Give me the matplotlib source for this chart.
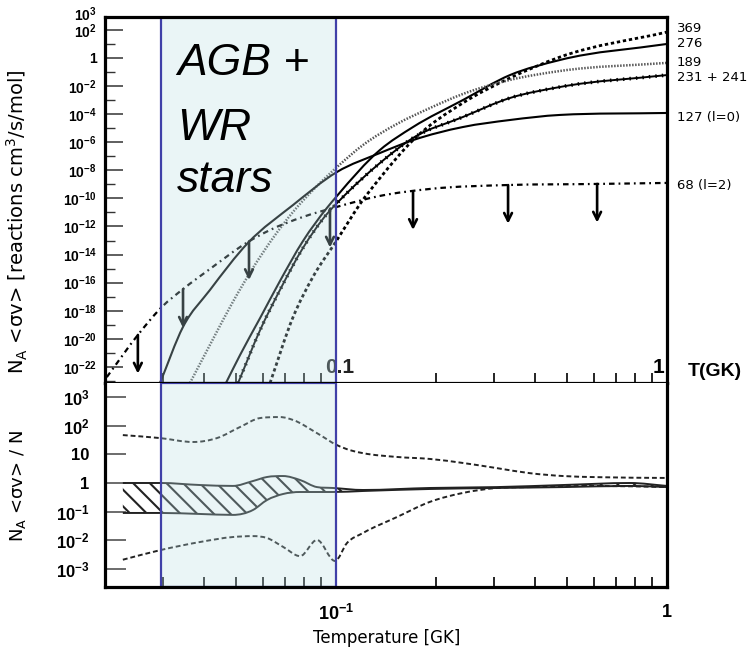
import matplotlib
matplotlib.use("Agg")
import matplotlib.pyplot as plt
import numpy as np
from matplotlib.ticker import FixedLocator, NullFormatter, NullLocator
from matplotlib.path import Path
from matplotlib.patches import PathPatch

plt.rcParams['mathtext.fontset'] = 'custom'
plt.rcParams['mathtext.rm'] = 'Liberation Sans:bold'
plt.rcParams['mathtext.it'] = 'Liberation Sans:bold'
plt.rcParams['mathtext.bf'] = 'Liberation Sans:bold'
plt.rcParams['mathtext.default'] = 'rm'
plt.rcParams['hatch.linewidth'] = 1.5

# ---------------- data (top panel): N_A<sv> vs T [GK] ----------------
T_369 = [0.0632, 0.0742, 0.0852, 0.1007, 0.1080, 0.1182, 0.1358, 0.1709, 0.2418, 0.3355, 0.4751, 1.0]
R_369 = [7.2e-24, 3.6e-19, 2.6e-16, 1.1e-13, 1.5e-12, 4.0e-11, 2.8e-09, 1.4e-06, 6.2e-04, 3.7e-02, 1.15, 69.0]

T_276 = [0.0465, 0.0513, 0.0590, 0.0677, 0.0795, 0.0939, 0.1007, 0.1358, 0.1709, 0.2418, 0.3355, 0.4751, 1.0]
R_276 = [7.2e-24, 7.1e-22, 3.1e-19, 1.3e-16, 9.3e-14, 2.1e-11, 1.5e-10, 2.8e-07, 1.2e-05, 1.0e-03, 6.0e-02, 0.71, 9.8]

T_189 = [0.0362, 0.0425, 0.0488, 0.0561, 0.0645, 0.0742, 0.0864, 0.1007, 0.1207, 0.1529, 0.1923, 0.2418, 0.3355, 0.4751, 1.0]
R_189 = [7.2e-24, 9.7e-21, 4.3e-18, 1.1e-15, 1.5e-13, 1.1e-11, 5.5e-10, 1.7e-08, 6.3e-07, 2.0e-05, 2.7e-04, 2.7e-03, 2.7e-02, 0.117, 0.44]

T_231 = [0.0506, 0.0590, 0.0677, 0.0795, 0.0939, 0.1028, 0.1358, 0.1709, 0.2418, 0.3355, 0.4751, 1.0]
R_231 = [7.2e-24, 4.3e-20, 3.0e-17, 3.0e-14, 7.8e-12, 7.6e-11, 3.3e-08, 2.0e-06, 6.2e-05, 1.4e-03, 8.5e-03, 6.0e-02]

T_127 = [0.0294, 0.0345, 0.0416, 0.0542, 0.0742, 0.1007, 0.1358, 0.1709, 0.2418, 0.3355, 0.4751, 1.0]
R_127 = [7.2e-24, 7.1e-20, 3.0e-17, 6.8e-14, 3.4e-11, 7.6e-09, 1.7e-07, 1.4e-06, 1.2e-05, 3.8e-05, 8.7e-05, 1.2e-04]

T_68 = [0.0203, 0.0252, 0.0298, 0.0345, 0.0416, 0.0542, 0.0632, 0.0795, 0.1007, 0.1358, 0.1923, 0.3355, 0.5854, 1.0]
R_68 = [1.9e-23, 1.9e-20, 1.9e-18, 3.5e-17, 9.4e-16, 7.9e-14, 5.6e-13, 4.8e-12, 2.5e-11, 1.5e-10, 4.7e-10, 9.0e-10, 1.05e-09, 1.26e-09]

# upper-limit arrows on the 68 keV (l=2) curve
T_arrows = [0.0252, 0.0345, 0.0546, 0.0959, 0.1709, 0.331, 0.615]

curve_labels = ["369", "276", "189", "231 + 241", "127 (l=0)", "68 (l=2)"]

# ---------------- data (bottom panel): N_A<sv>/N ----------------
T_hi = [0.0227, 0.0294, 0.0370, 0.0437, 0.0513, 0.0590, 0.0677, 0.0742, 0.0876, 0.1007,
        0.1102, 0.1207, 0.1529, 0.1923, 0.2418, 0.3064, 0.3855, 0.4851, 0.6144, 1.0]
N_hi = [47, 37, 27, 37, 90, 185, 200, 158, 55, 21, 14, 11, 8.1, 6.9, 5.0, 3.3, 2.2, 1.75, 1.6, 1.5]

T_lo = [0.0227, 0.0296, 0.0388, 0.0488, 0.0561, 0.0619, 0.0692, 0.0779, 0.0876, 0.0993,
        0.1080, 0.1207, 0.1529, 0.1923, 0.2418, 0.3064, 0.3855, 0.6144, 1.0]
N_lo = [2.1e-3, 4.6e-3, 8.7e-3, 1.3e-2, 1.4e-2, 1.2e-2, 5.9e-3, 2.8e-3, 1.03e-2, 1.9e-3,
        8.1e-3, 1.8e-2, 6.5e-2, 0.22, 0.45, 0.67, 0.72, 0.79, 0.72]

T_band = [0.0227, 0.0296, 0.0388, 0.0488, 0.0561, 0.0619, 0.0692, 0.0779, 0.0876, 0.0979,
          0.1207, 0.1923, 0.3064, 0.4851, 0.7737, 1.0]
N_band_up = [1.0, 1.0, 0.85, 0.79, 1.17, 1.62, 1.75, 1.27, 0.72, 0.67, 0.57, 0.67, 0.72, 0.85, 1.0, 0.79]
N_band_dn = [0.090, 0.090, 0.083, 0.077, 0.114, 0.255, 0.413, 0.485, 0.485, 0.485, 0.526, 0.618,
             0.67, 0.72, 0.79, 0.72]

T_box = [0.0296, 0.1]   # AGB + WR temperature range


def bezier_verts(xs, ys):
    """Cubic Bezier vertices through the points (shape-preserving tangents, log-log)."""
    lx, ly = np.log10(xs), np.log10(ys)
    n = len(lx)
    h = np.diff(lx)
    d = np.diff(ly) / h
    m = np.zeros(n)
    m[0], m[-1] = d[0], d[-1]
    for i in range(1, n - 1):
        if d[i - 1] * d[i] <= 0:
            m[i] = 0.0
        else:
            mi = (d[i - 1] * h[i] + d[i] * h[i - 1]) / (h[i - 1] + h[i])
            lim = 3 * min(abs(d[i - 1]), abs(d[i]))
            m[i] = np.sign(mi) * min(abs(mi), lim)
    verts = [(lx[0], ly[0])]
    for i in range(n - 1):
        verts += [(lx[i] + h[i] / 3, ly[i] + m[i] * h[i] / 3),
                  (lx[i + 1] - h[i] / 3, ly[i + 1] - m[i + 1] * h[i] / 3),
                  (lx[i + 1], ly[i + 1])]
    return 10.0 ** np.array(verts)


def smooth_path(xs, ys):
    v = bezier_verts(xs, ys)
    codes = [Path.MOVETO] + [Path.CURVE4] * (len(v) - 1)
    return Path(v, codes)


def draw(ax, xs, ys, **kw):
    ax.add_patch(PathPatch(smooth_path(xs, ys), fill=False, capstyle='butt', **kw))


# ---------------- figure ----------------
W, H = 754, 654
fig = plt.figure(figsize=(W / 100, H / 100), dpi=100)
L, R = 105, 667
ax1 = fig.add_axes([L / W, 1 - 383 / H, (R - L) / W, (383 - 17) / H])
ax2 = fig.add_axes([L / W, 1 - 587 / H, (R - L) / W, (587 - 383) / H])

xlim = (0.02005, 1.0)
for ax in (ax1, ax2):
    ax.set_xscale('log')
    ax.set_yscale('log')
    ax.set_xlim(*xlim)
    for s in ax.spines.values():
        s.set_linewidth(2.3)
ax1.set_ylim(10 ** -23.14, 10 ** 2.91)
ax2.set_ylim(10 ** -3.63, 10 ** 3.49)
ax2.spines['top'].set_visible(False)

# --- top panel curves
draw(ax1, T_369, R_369, edgecolor='k', lw=2.0, ls=(0, (1.2, 1.0)), zorder=2)
draw(ax1, T_276, R_276, edgecolor='k', lw=1.5, zorder=2)
draw(ax1, T_189, R_189, edgecolor='#555555', lw=1.8, ls=(0, (0.6, 0.6)), zorder=2)
draw(ax1, T_231, R_231, edgecolor='k', lw=1.4, zorder=2)
draw(ax1, T_231, R_231, edgecolor='k', lw=2.6, ls=(0, (0.4, 1.4)), zorder=2)
draw(ax1, T_127, R_127, edgecolor='k', lw=1.5, zorder=2)
draw(ax1, T_68, R_68, edgecolor='k', lw=1.6, ls=(0, (2.5, 1.8, 0.8, 1.8)), zorder=2)

logT68, logR68 = np.log10(T_68), np.log10(R_68)
for ta in T_arrows:
    r0 = 10 ** np.interp(np.log10(ta), logT68, logR68)
    ax1.annotate('', xy=(ta, r0 / 10 ** 2.75), xytext=(ta, r0),
                 arrowprops=dict(arrowstyle='->', lw=1.9, color='k',
                                 mutation_scale=14, shrinkA=0, shrinkB=0), zorder=2)

# right-hand labels
ends = [R_369[-1], R_276[-1], R_189[-1], R_231[-1], R_127[-1], R_68[-1]]
dys = [2.5, 0.5, 0, -1.5, -3.5, -2]
for lab, v, dy in zip(curve_labels, ends, dys):
    ax1.annotate(lab, xy=(1.0, v), xycoords=('data', 'data'), xytext=(7, dy),
                 textcoords='offset points', ha='left', va='center', fontsize=9.5,
                 family='DejaVu Sans', annotation_clip=False)

# top y ticks
yt1 = [10.0 ** k for k in range(2, -23, -2)]
yl1 = ['$10^{%d}$' % k if k != 0 else '1' for k in range(2, -23, -2)]
ax1.yaxis.set_major_locator(FixedLocator(yt1))
ax1.set_yticklabels(yl1)
ax1.yaxis.set_minor_locator(FixedLocator([10.0 ** k for k in range(1, -24, -2)]))
ax1.yaxis.set_minor_formatter(NullFormatter())
ax1.tick_params(axis='y', which='major', direction='in', length=13, width=1.1, pad=6,
                labelsize=10, color='#333333')
ax1.tick_params(axis='y', which='minor', direction='in', length=7, width=1.0, color='#333333')
for t in ax1.get_yticklabels():
    t.set_fontweight('bold')
    t.set_family('Liberation Sans')
ax1.annotate('$10^{3}$', xy=(0, 1), xycoords='axes fraction', xytext=(-6, 2),
             textcoords='offset points', ha='right', va='center', fontsize=10)

# top x ticks (inside, no labels)
ax1.xaxis.set_major_locator(FixedLocator([0.1, 1.0]))
ax1.xaxis.set_minor_locator(FixedLocator([0.03, 0.04, 0.05, 0.06, 0.07, 0.08, 0.09,
                                          0.2, 0.3, 0.4, 0.5, 0.6, 0.7, 0.8, 0.9]))
ax1.xaxis.set_major_formatter(NullFormatter())
ax1.xaxis.set_minor_formatter(NullFormatter())
ax1.tick_params(axis='x', which='both', direction='in', length=7, width=1.2)
ax1.annotate('0.1', xy=(0.1, 10 ** -22.45), xytext=(-7.5, 0), textcoords='offset points',
             ha='left', va='baseline', fontsize=15, fontweight='bold',
             family='Liberation Sans', color='#222222', zorder=2.2)
ax1.text(0.985, 10 ** -22.45, '1', ha='right', va='baseline', fontsize=15,
         fontweight='bold', family='Liberation Sans', zorder=3)
fig.text(688 / W, 1 - 376 / H, 'T(GK)', ha='left', va='baseline', fontsize=14,
         fontweight='bold', family='Liberation Sans')

ax1.set_ylabel('N$_\\mathrm{A}$ <σv> [reactions cm$^\\mathrm{3}$/s/mol]', fontsize=14,
               family='DejaVu Sans', math_fontfamily='dejavusans')
ax1.yaxis.set_label_coords(-(105 - 30) / (R - L), (383 - 222) / 366)

# --- bottom panel
draw(ax2, T_hi, N_hi, edgecolor='#222222', lw=1.4, ls=(0, (2.5, 1.5)), zorder=2)
draw(ax2, T_lo, N_lo, edgecolor='#222222', lw=1.4, ls=(0, (2.5, 1.5)), zorder=2)

vu = bezier_verts(T_band, N_band_up)
vd = bezier_verts(T_band, N_band_dn)
band_verts = np.vstack([vu, vd[::-1], vu[:1]])
band_codes = ([Path.MOVETO] + [Path.CURVE4] * (len(vu) - 1) + [Path.LINETO]
              + [Path.CURVE4] * (len(vd) - 1) + [Path.CLOSEPOLY])
ax2.add_patch(PathPatch(Path(band_verts, band_codes), facecolor='none', edgecolor='#222222',
                        hatch='\\\\', linewidth=0, zorder=1.8))
draw(ax2, T_band, N_band_up, edgecolor='#222222', lw=1.4, zorder=2)
draw(ax2, T_band, N_band_dn, edgecolor='#222222', lw=1.4, zorder=2)

yt2 = [1e3, 1e2, 10, 1, 1e-1, 1e-2, 1e-3]
yl2 = ['$10^{3}$', '$10^{2}$', '10', '1', '$10^{-1}$', '$10^{-2}$', '$10^{-3}$']
ax2.yaxis.set_major_locator(FixedLocator(yt2))
ax2.set_yticklabels(yl2)
ax2.yaxis.set_minor_locator(NullLocator())
ax2.tick_params(axis='y', which='major', direction='in', length=15, width=1.1, pad=11,
                labelsize=12, color='#444444')
for t in ax2.get_yticklabels():
    t.set_fontweight('bold')
    t.set_family('Liberation Sans')

ax2.xaxis.set_major_locator(FixedLocator([0.1, 1.0]))
ax2.set_xticklabels(['$10^{-1}$', '1'])
ax2.xaxis.set_minor_locator(FixedLocator([0.03, 0.04, 0.05, 0.06, 0.07, 0.08, 0.09,
                                          0.2, 0.3, 0.4, 0.5, 0.6, 0.7, 0.8, 0.9]))
ax2.xaxis.set_minor_formatter(NullFormatter())
ax2.tick_params(axis='x', which='both', direction='in', length=7, width=1.2, pad=12,
                labelsize=13)
for t in ax2.get_xticklabels():
    t.set_fontweight('bold')
    t.set_family('Liberation Sans')

ax2.set_ylabel('N$_\\mathrm{A}$ <σv> / N', fontsize=13, family='DejaVu Sans',
               math_fontfamily='dejavusans')
ax2.yaxis.set_label_coords(-(105 - 28) / (R - L), (587 - 486) / 204)
ax2.set_xlabel('Temperature [GK]', fontsize=12, family='DejaVu Sans')
ax2.xaxis.set_label_coords((387 - L) / (R - L), -(638 - 587) / 204)
ax2.xaxis.label.set_va('center')

# --- AGB + WR shaded box (overlay in both panels)
for ax in (ax1, ax2):
    ax.axvspan(T_box[0], T_box[1], facecolor=(0.73, 0.87, 0.89, 0.3),
               edgecolor='#4040a8', lw=1.6, zorder=2.4)

for txt, yb in (('AGB +', 75), ('WR', 140), ('stars', 192)):
    fig.text(177 / W, 1 - yb / H, txt, ha='left', va='baseline', fontsize=32,
             style='italic', family='Liberation Sans', zorder=5)

fig.savefig('out.png', dpi=100)
